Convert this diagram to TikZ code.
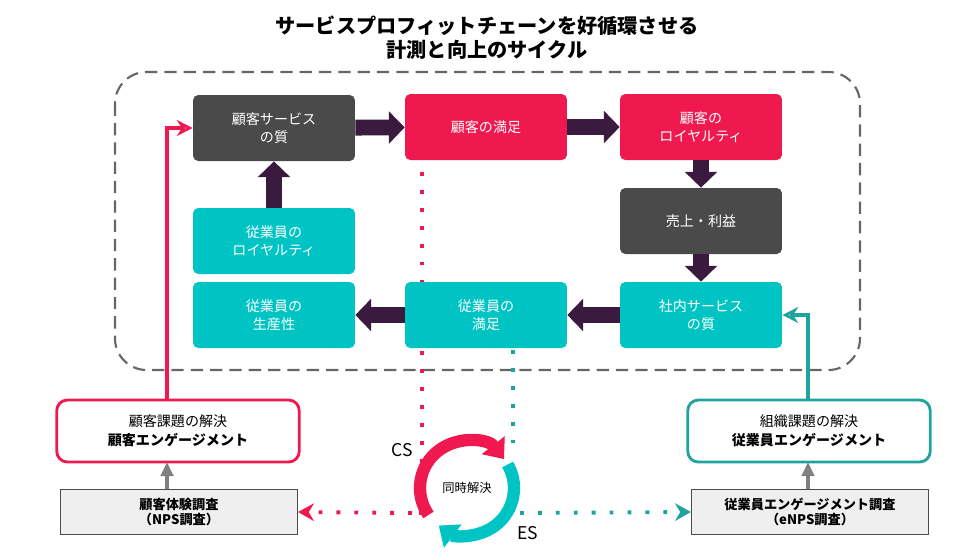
\documentclass[tikz,border=0pt]{standalone}
\usepackage{fontspec}
\setmainfont{Noto Sans CJK JP}
\usetikzlibrary{arrows.meta}
\definecolor{dgray}{HTML}{4A4A4A}
\definecolor{pinkc}{HTML}{F0194F}
\definecolor{tealc}{HTML}{00C4C4}
\definecolor{tealdk}{HTML}{1FA39E}
\definecolor{plum}{HTML}{3B1A3F}
\definecolor{lgray}{HTML}{EFEFEF}
\begin{document}
\begin{tikzpicture}[x=0.02cm,y=-0.02cm]
\tikzset{stage/.style={rectangle,rounded corners=3pt,minimum width=3.24cm,minimum height=1.32cm,text=white,font=\fontsize{8}{10}\selectfont,align=center,inner sep=0pt},
  gray stage/.style={stage,fill=dgray},
  pink stage/.style={stage,fill=pinkc},
  teal stage/.style={stage,fill=tealc},
  flow/.style={-{Triangle[length=9pt,width=18pt]},plum,line width=9pt},
  engage/.style={rectangle,rounded corners=6pt,line width=1.6pt,fill=white,minimum width=4.85cm,minimum height=1.24cm,align=center,font=\fontsize{8}{11}\selectfont},
  survey/.style={rectangle,draw=black!70,fill=lgray,minimum width=4.75cm,minimum height=0.9cm,align=center,font=\fontsize{7.5}{9}\selectfont\bfseries,inner sep=0pt},
  dots/.style={line width=2.2pt,dash pattern=on 2.2pt off 8pt}}
\useasboundingbox (0,0) rectangle (975,559);
% title
\node (title) at (487,38) [align=center,font=\fontsize{11.5}{13.5}\selectfont\bfseries] {サービスプロフィットチェーンを好循環させる\\計測と向上のサイクル};
\draw[dashed,dash pattern=on 7pt off 4pt,line width=1.2pt,black!60,rounded corners=18pt] (115,72) rectangle (860,370);
% dotted lines behind
\coordinate (csturn) at (422,513);
\coordinate (esturn) at (513,450);
\draw[dots,pinkc] (422,172) -- (csturn) -- (412,513);
\draw[dots,tealdk] (513,350) -- (esturn);
% stages
\node[gray stage] (svc) at (274,128) {顧客サービス\\の質};
\node[pink stage] (sat) at (486,127) {顧客の満足};
\node[pink stage] (loy) at (701,127) {顧客の\\ロイヤルティ};
\node[gray stage] (rev) at (701,221) {売上・利益};
\node[teal stage] (isvc) at (701,315) {社内サービス\\の質};
\node[teal stage] (esat) at (486,315) {従業員の\\満足};
\node[teal stage] (prod) at (274,315) {従業員の\\生産性};
\node[teal stage] (eloy) at (274,241) {従業員の\\ロイヤルティ};
\draw[flow] (svc) -- (sat);
\draw[flow] (sat) -- (loy);
\draw[flow] (loy) -- (rev);
\draw[flow] (rev) -- (isvc);
\draw[flow] (isvc) -- (esat);
\draw[flow] (esat) -- (prod);
\draw[flow] (eloy) -- (svc);
% engagement boxes
\node[engage,draw=pinkc] (ceng) at (178,431) {顧客課題の解決\\\textbf{顧客エンゲージメント}};
\node[engage,draw=tealdk] (eeng) at (809,431) {組織課題の解決\\\textbf{従業員エンゲージメント}};
\node[survey] (nps) at (179,512) {顧客体験調査\\（NPS調査）};
\node[survey] (enps) at (810,512) {従業員エンゲージメント調査\\（eNPS調査）};
\draw[-{Triangle[length=8pt,width=7pt]},black!50,line width=2.5pt] (nps.north -| 167,0) -- (167,462);
\draw[-{Triangle[length=8pt,width=7pt]},black!50,line width=2.5pt] (enps.north -| 808,0) -- (808,462);
\draw[-{Stealth[length=9pt,width=9pt,open]},pinkc,line width=2pt] (167,400) |- (svc.west);
\draw[-{Stealth[length=9pt,width=9pt,open]},tealdk,line width=2pt] (808,400) |- (isvc.east);
\draw[dots,pinkc,-{Stealth[length=9pt,width=10pt]}] (412,513) -- (nps.east);
\draw[dots,tealdk,-{Stealth[length=9pt,width=10pt]}] (520,513) -- (enps.west);
% cycle
\node (cyc) at (467,488) [font=\fontsize{7}{8}\selectfont] {同時解決};
\draw[pinkc,line width=7pt,-{Triangle[length=10pt,width=16pt]}] (cyc.center) ++(145:47) arc[start angle=145,end angle=322,radius=47];
\draw[tealc,line width=7pt,-{Triangle[length=10pt,width=16pt]}] (cyc.center) ++(330:47) arc[start angle=330,end angle=487,radius=47];
\node (cs) at (402,450) [font=\fontsize{10}{12}\selectfont] {CS};
\node (es) at (528,533) [font=\fontsize{10}{12}\selectfont] {ES};
\end{tikzpicture}
\end{document}
